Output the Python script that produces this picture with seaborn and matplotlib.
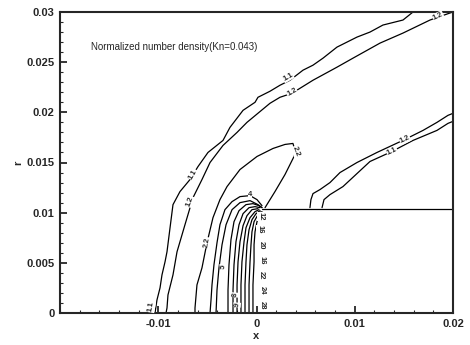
import numpy as np
import pandas as pd
import matplotlib
matplotlib.use("Agg")
import matplotlib.pyplot as plt
from matplotlib.ticker import MultipleLocator, FuncFormatter
import seaborn as sns

c11_left_x = [-0.01033, -0.01013, -0.00982, -0.00962, -0.00931, -0.00911, -0.00880, -0.00850, -0.00779,
              -0.00677, -0.00595, -0.00494, -0.00341, -0.00270, -0.00137, -0.00015, 0.00015, 0.00137,
              0.00239, 0.00341, 0.00473, 0.00575, 0.00677, 0.00819, 0.01023, 0.01155, 0.01287, 0.01491, 0.01593]
c11_left_y = [0.0, 0.0013, 0.0025, 0.0038, 0.0051, 0.0061, 0.0085, 0.0108, 0.0121,
              0.0133, 0.0146, 0.0160, 0.0172, 0.0185, 0.0202, 0.0210, 0.0215, 0.0221,
              0.0227, 0.0232, 0.0242, 0.0247, 0.0254, 0.0265, 0.0275, 0.0280, 0.0287, 0.0292, 0.0300]

c12_left_x = [-0.00921, -0.00911, -0.00901, -0.00850, -0.00809, -0.00728, -0.00646, -0.00555, -0.00473,
              -0.00341, -0.00198, -0.00097, 0.00137, 0.00239, 0.00361, 0.00575, 0.00819, 0.00982,
              0.01257, 0.01491, 0.01766, 0.01969, 0.0200]
c12_left_y = [0.0, 0.0005, 0.0018, 0.0038, 0.0061, 0.0088, 0.0115, 0.0133, 0.0150,
              0.0167, 0.0180, 0.0190, 0.0209, 0.0215, 0.0219, 0.0232, 0.0245, 0.0254,
              0.0269, 0.0279, 0.0292, 0.0299, 0.0300]

c22_x = [-0.00626, -0.00626, -0.00606, -0.00555, -0.00504, -0.00443, -0.00372, -0.00300, -0.00168,
         0.00005, 0.00168, 0.00290, 0.00371, 0.00392, 0.00382, 0.00290, 0.00188, 0.00087]
c22_y = [0.0, 0.0005, 0.0028, 0.0045, 0.0070, 0.0095, 0.0113, 0.0126, 0.0143,
         0.0156, 0.0164, 0.0168, 0.0169, 0.0162, 0.0156, 0.0138, 0.0121, 0.0105]

c4_x = [-0.00473, -0.00463, -0.00453, -0.00433, -0.00402, -0.00372, -0.00321, -0.00249, -0.00168,
        -0.00066, 0.00005, 0.00056]
c4_y = [0.0, 0.0013, 0.0028, 0.0048, 0.0070, 0.0088, 0.0103, 0.0111, 0.0116, 0.0117, 0.0113, 0.0107]

c5_x = [-0.00412, -0.00402, -0.00382, -0.00351, -0.00310, -0.00249, -0.00168, -0.00066, 0.00015, 0.00056]
c5_y = [0.0, 0.0023, 0.0045, 0.0068, 0.0088, 0.0103, 0.0110, 0.0112, 0.0108, 0.0105]

c6_x = [-0.00290, -0.00290, -0.00280, -0.00260, -0.00229, -0.00178, -0.00107, -0.00036, 0.00025, 0.00056]
c6_y = [0.0, 0.0023, 0.0048, 0.0073, 0.0091, 0.0102, 0.0108, 0.0109, 0.0107, 0.0105]

c8_x = [-0.00239, -0.00239, -0.00229, -0.00209, -0.00178, -0.00137, -0.00076, -0.00015, 0.00036]
c8_y = [0.0, 0.0023, 0.0048, 0.0071, 0.0088, 0.0099, 0.0105, 0.0106, 0.0105]

c10_x = [-0.00198, -0.00198, -0.00188, -0.00168, -0.00137, -0.00097, -0.00046, 0.00015]
c10_y = [0.0, 0.0028, 0.0051, 0.0071, 0.0087, 0.0097, 0.0103, 0.0104]

c12_x = [-0.00158, -0.00158, -0.00148, -0.00127, -0.00107, -0.00066, -0.00015, 0.00025]
c12_y = [0.0, 0.0028, 0.0051, 0.0071, 0.0085, 0.0095, 0.0101, 0.0103]

c16_x = [-0.00117, -0.00117, -0.00107, -0.00097, -0.00076, -0.00046, -0.00005, 0.00036]
c16_y = [0.0, 0.0028, 0.0051, 0.0068, 0.0083, 0.0093, 0.0099, 0.0102]

c20_x = [-0.00076, -0.00076, -0.00066, -0.00056, -0.00046, -0.00025, 0.00015, 0.00046]
c20_y = [0.0, 0.0028, 0.0051, 0.0068, 0.0081, 0.0091, 0.0098, 0.0101]

c24_x = [-0.00036, -0.00036, -0.00025, -0.00025, -0.00015, 0.00005, 0.00036, 0.00056]
c24_y = [0.0, 0.0028, 0.0051, 0.0068, 0.0081, 0.0091, 0.0098, 0.0101]

c12_right_x = [0.00544, 0.00554, 0.00575, 0.00646, 0.00748, 0.00850, 0.01023, 0.01226, 0.01511,
               0.01695, 0.01837, 0.01949, 0.0200]
c12_right_y = [0.0105, 0.0113, 0.0119, 0.0123, 0.0130, 0.0140, 0.0150, 0.0160, 0.0173,
               0.0182, 0.0190, 0.0197, 0.0199]

c11_right_x = [0.00667, 0.00687, 0.00748, 0.00880, 0.01155, 0.01379, 0.01593, 0.01837, 0.01949, 0.0200]
c11_right_y = [0.0105, 0.0113, 0.0118, 0.0126, 0.0151, 0.0161, 0.0172, 0.0182, 0.0189, 0.0191]

# body (flat-nosed cylinder) outline
body_x = [0.00056, 0.0200]
body_y = [0.0104, 0.0104]

# contour labels: text, x, r, rotation
label_text = ["1.1", "1.2", "1.1", "1.2", "1.2", "1.1", "2.2", "2.2", "4", "5", "8", "9",
              "1.2", "1.1", "12", "16", "20", "16", "22", "24", "28"]
label_x = [-0.00646, -0.00677, 0.00321, 0.00361, 0.01847, -0.01070, -0.00504, 0.00402, -0.00066, -0.00341,
           -0.00219, -0.00198, 0.01511, 0.01379, 0.00046, 0.00036, 0.00046, 0.00056, 0.00046, 0.00056, 0.00056]
label_y = [0.0138, 0.0111, 0.0235, 0.0220, 0.0296, 0.0006, 0.0070, 0.0161, 0.0118, 0.0046,
           0.0018, 0.0008, 0.0173, 0.0161, 0.0096, 0.0083, 0.0068, 0.0053, 0.0038, 0.0023, 0.0008]
label_rot = [60, 70, 30, 30, 25, 80, 80, -70, 0, 85, 85, 85, 25, 25, -90, -90, -90, -90, -90, -90, -90]

title_text = "Normalized number density(Kn=0.043)"

# ---- assemble long-form table for seaborn ----
lines = {
    "1.1L": (c11_left_x, c11_left_y), "1.2L": (c12_left_x, c12_left_y),
    "2.2": (c22_x, c22_y), "4": (c4_x, c4_y), "5": (c5_x, c5_y), "6": (c6_x, c6_y),
    "8": (c8_x, c8_y), "10": (c10_x, c10_y), "12": (c12_x, c12_y), "16": (c16_x, c16_y),
    "20": (c20_x, c20_y), "24": (c24_x, c24_y),
    "1.2R": (c12_right_x, c12_right_y), "1.1R": (c11_right_x, c11_right_y),
    "body": (body_x, body_y),
}
frames = []
for k, (xs, ys) in lines.items():
    frames.append(pd.DataFrame({"x": xs, "r": ys, "line": k, "order": np.arange(len(xs))}))
df = pd.concat(frames, ignore_index=True)

sns.set_style("ticks")
plt.rcParams["font.family"] = ["Liberation Sans", "DejaVu Sans"]

fig = plt.figure(figsize=(4.70, 3.45), dpi=100)
ax = fig.add_axes([60 / 470, (345 - 313) / 345, (453 - 60) / 470, (313 - 12) / 345])

sns.lineplot(data=df, x="x", y="r", units="line", estimator=None, sort=False,
             color="black", linewidth=0.9, ax=ax, legend=False)

for t, lx, ly, rot in zip(label_text, label_x, label_y, label_rot):
    ax.text(lx, ly, t, fontsize=5.5, fontweight="bold", rotation=rot, ha="center", va="center",
            bbox=dict(facecolor="white", edgecolor="none", pad=0.2), zorder=5)

ax.text(0.078, 0.885, title_text, transform=ax.transAxes, fontsize=7, ha="left", va="center")

ax.set_xlim(-0.02, 0.02)
ax.set_ylim(0, 0.03)
ax.set_xticks([-0.01, 0, 0.01, 0.02])
ax.set_yticks([0, 0.005, 0.01, 0.015, 0.02, 0.025, 0.03])
ax.xaxis.set_minor_locator(MultipleLocator(0.002))
ax.yaxis.set_minor_locator(MultipleLocator(0.001))
fmt = FuncFormatter(lambda v, p: "0" if abs(v) < 1e-12 else ("%g" % round(v, 4)))
ax.xaxis.set_major_formatter(fmt)
ax.yaxis.set_major_formatter(fmt)
ax.tick_params(which="major", direction="in", length=5, width=1.3, labelsize=8, pad=4)
ax.tick_params(which="minor", direction="in", length=2.5, width=0.8)
for lab in ax.get_xticklabels() + ax.get_yticklabels():
    lab.set_fontweight("bold")
for s in ax.spines.values():
    s.set_linewidth(1.5)
    s.set_visible(True)
ax.set_xlabel("x", fontsize=8, fontweight="bold", labelpad=2)
ax.set_ylabel("r", fontsize=8, fontweight="bold", labelpad=2)

fig.savefig("out.png", dpi=100)
